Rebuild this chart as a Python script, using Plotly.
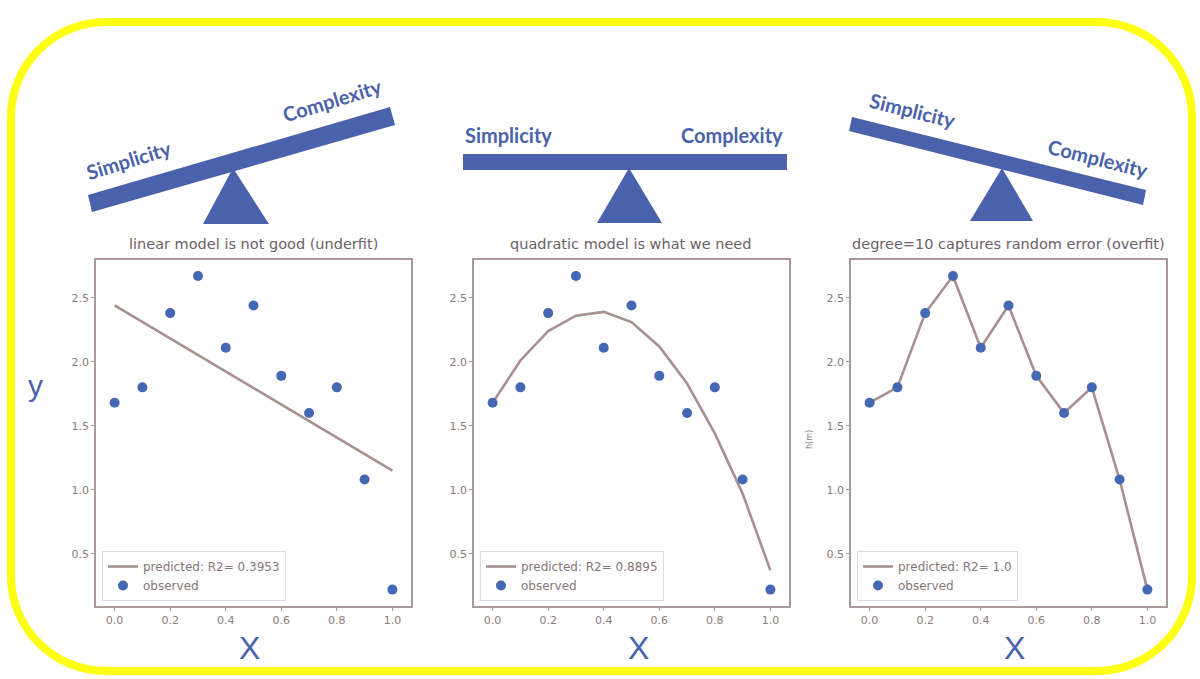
import plotly.graph_objects as go

W, H = 1200, 679

# ---------------- data ----------------
x_vals = [0.0, 0.1, 0.2, 0.3, 0.4, 0.5, 0.6, 0.7, 0.8, 0.9, 1.0]
observed = [1.68, 1.80, 2.38, 2.67, 2.11, 2.44, 1.89, 1.60, 1.80, 1.08, 0.22]
linear_x = [0.0, 1.0]
linear_pred = [2.44, 1.15]
quad_pred = [1.68, 2.01, 2.24, 2.36, 2.39, 2.31, 2.12, 1.83, 1.44, 0.97, 0.37]
deg10_pred = [1.68, 1.80, 2.38, 2.67, 2.11, 2.44, 1.89, 1.60, 1.80, 1.08, 0.22]

panel_titles = ["linear model is not good (underfit)",
                "quadratic model is what we need",
                "degree=10 captures random error (overfit)"]
r2_labels = ["predicted: R2= 0.3953", "predicted: R2= 0.8895", "predicted: R2= 1.0"]
x_ticks = [0.0, 0.2, 0.4, 0.6, 0.8, 1.0]
y_ticks = [0.5, 1.0, 1.5, 2.0, 2.5]

# ---------------- styling ----------------
LINE_C = "#a89090"
DOT_C = "#4568b4"
AX_C = "#ab9999"
TICK_FONT_C = "#8a7b7e"
BLUE = "#4a62ab"
YELLOW = "#ffff14"


def px(x):
    return x / W


def py(y):
    return 1 - y / H


panels_px = [(96, 411), (474, 789), (851, 1166)]
top_px, bot_px = 260, 606

fig = go.Figure()

pred_x = [linear_x, x_vals, x_vals]
pred_y = [linear_pred, quad_pred, deg10_pred]
for i in range(3):
    xa = "x" if i == 0 else f"x{i+1}"
    ya = "y" if i == 0 else f"y{i+1}"
    lg = "legend" if i == 0 else f"legend{i+1}"
    fig.add_trace(go.Scatter(x=pred_x[i], y=pred_y[i], mode="lines",
                             line=dict(color=LINE_C, width=2.6),
                             name=r2_labels[i], xaxis=xa, yaxis=ya, legend=lg))
    fig.add_trace(go.Scatter(x=x_vals, y=observed, mode="markers",
                             marker=dict(color=DOT_C, size=10),
                             name="observed", xaxis=xa, yaxis=ya, legend=lg))

axis_common = dict(showline=True, mirror=True, linecolor=AX_C, linewidth=1.6,
                   ticks="outside", ticklen=3, tickcolor=AX_C, showgrid=False,
                   zeroline=False,
                   tickfont=dict(family="DejaVu Sans", size=11, color=TICK_FONT_C))
layout_axes = {}
for i, (l, r) in enumerate(panels_px):
    sx = "" if i == 0 else str(i + 1)
    layout_axes[f"xaxis{sx}"] = dict(axis_common, domain=[px(l), px(r)],
                                     range=[-0.067, 1.067], tickvals=x_ticks,
                                     tickformat=".1f",
                                     anchor=f"y{sx}")
    layout_axes[f"yaxis{sx}"] = dict(axis_common, domain=[py(bot_px), py(top_px)],
                                     range=[0.092, 2.795], tickvals=y_ticks,
                                     tickformat=".1f",
                                     anchor=f"x{sx}")

legend_common = dict(bgcolor="rgba(255,255,255,0.9)", bordercolor="#dcdcdc",
                     borderwidth=1, xanchor="left", yanchor="bottom",
                     font=dict(family="DejaVu Sans", size=12, color="#857779"),
                     itemwidth=30, tracegroupgap=0)
legends = {}
for i, (l, r) in enumerate(panels_px):
    key = "legend" if i == 0 else f"legend{i+1}"
    legends[key] = dict(legend_common, x=px(l + 6), y=py(bot_px - 5))

shapes = []


def poly(pts, color):
    path = "M " + " L ".join(f"{px(a):.5f},{py(b):.5f}" for a, b in pts) + " Z"
    return dict(type="path", xref="paper", yref="paper", path=path,
                fillcolor=color, line=dict(width=0), layer="above")


# seesaw planks and fulcrums
shapes.append(poly([(88, 195), (390, 107), (395, 125), (92, 212)], BLUE))
shapes.append(poly([(233, 168), (203, 224), (269, 224)], BLUE))
shapes.append(poly([(463, 154), (787, 154), (787, 170), (463, 170)], BLUE))
shapes.append(poly([(629, 168), (597, 223), (662, 223)], BLUE))
shapes.append(poly([(852, 117), (1146, 190), (1143, 205), (849, 131)], BLUE))
shapes.append(poly([(1002, 168), (970, 221), (1033, 221)], BLUE))

# yellow rounded frame
x0, y0, x1, y1, rr = 11, 22, 1192, 671, 95
k = 0.5523 * rr
frame = (f"M {px(x0+rr)},{py(y0)} L {px(x1-rr)},{py(y0)} "
         f"C {px(x1-rr+k)},{py(y0)} {px(x1)},{py(y0+rr-k)} {px(x1)},{py(y0+rr)} "
         f"L {px(x1)},{py(y1-rr)} "
         f"C {px(x1)},{py(y1-rr+k)} {px(x1-rr+k)},{py(y1)} {px(x1-rr)},{py(y1)} "
         f"L {px(x0+rr)},{py(y1)} "
         f"C {px(x0+rr-k)},{py(y1)} {px(x0)},{py(y1-rr+k)} {px(x0)},{py(y1-rr)} "
         f"L {px(x0)},{py(y0+rr)} "
         f"C {px(x0)},{py(y0+rr-k)} {px(x0+rr-k)},{py(y0)} {px(x0+rr)},{py(y0)} Z")
shapes.append(dict(type="path", xref="paper", yref="paper", path=frame,
                   line=dict(color=YELLOW, width=8), fillcolor="rgba(0,0,0,0)",
                   layer="below"))

annotations = []


def text(t, x, y, size, color, angle=0, family="Lato", bold=False):
    s = f"<b>{t}</b>" if bold else t
    annotations.append(dict(text=s, x=px(x), y=py(y), xref="paper", yref="paper",
                            showarrow=False, textangle=angle,
                            xanchor="center", yanchor="middle",
                            font=dict(family=family, size=size, color=color)))


SEE_FONT = "Lato"
text("Simplicity", 128, 160, 20, BLUE, -17, SEE_FONT, True)
text("Complexity", 332, 100, 20, BLUE, -17, SEE_FONT, True)
text("Simplicity", 508, 135, 20, BLUE, 0, SEE_FONT, True)
text("Complexity", 732, 135, 20, BLUE, 0, SEE_FONT, True)
text("Simplicity", 912, 110, 20, BLUE, 14, SEE_FONT, True)
text("Complexity", 1098, 158, 20, BLUE, 14, SEE_FONT, True)

title_x = [253, 630, 1008]
for t, cx in zip(panel_titles, title_x):
    text(t, cx, 244, 14.5, "#6c6168", 0, "DejaVu Sans")

for cx in [249, 638, 1014]:
    text("X", cx, 648, 32, BLUE, 0, "Liberation Sans")
text("y", 35, 385, 30, BLUE, 0, "Liberation Sans")
text("h(m)", 809, 440, 8, TICK_FONT_C, -90, "DejaVu Sans")

fig.update_layout(width=W, height=H, margin=dict(l=0, r=0, t=0, b=0),
                  paper_bgcolor="white", plot_bgcolor="white",
                  shapes=shapes, annotations=annotations,
                  **layout_axes, **legends)

fig.write_html("out.html", config={"displayModeBar": False},
               post_script="document.body.style.margin='0';document.body.style.overflow='hidden';")
